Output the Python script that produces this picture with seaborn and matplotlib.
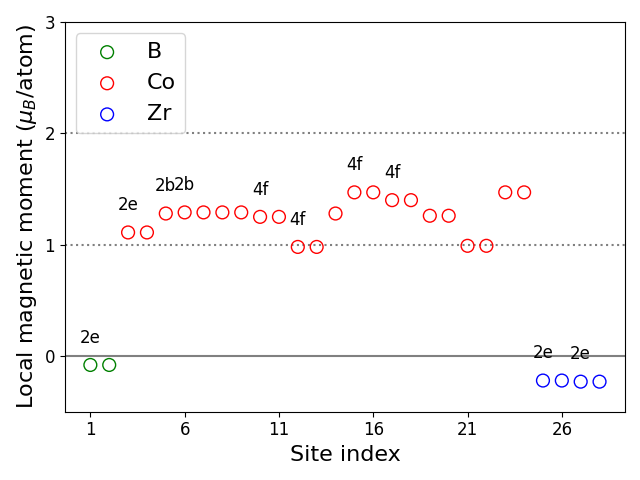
import seaborn as sns
import matplotlib.pyplot as plt
import pandas as pd

# datos
elementos = ['B'] * 2 + ['Co'] * 22 + ['Zr'] * 4
momentos = [-0.08, -0.08,
            1.11, 1.11, 1.28, 1.29, 1.29, 1.29, 1.29, 1.25, 1.25, 0.98, 0.98,
            1.28, 1.47, 1.47, 1.40, 1.40, 1.26, 1.26, 0.99, 0.99, 1.47, 1.47,
            -0.22, -0.22, -0.23, -0.23]
sitios = list(range(1, len(momentos) + 1))
etiquetas = {1: '2e', 3: '2e', 5: '2b', 6: '2b', 10: '4f', 12: '4f',
             15: '4f', 17: '4f', 25: '2e', 27: '2e'}
colores = {'B': 'green', 'Co': 'red', 'Zr': 'blue'}

df = pd.DataFrame({'sitio': sitios, 'momento': momentos, 'elemento': elementos})

fig, ax = plt.subplots(figsize=(6.4, 4.8), dpi=100)
for el, col in colores.items():
    sub = df[df['elemento'] == el]
    sns.scatterplot(x=sub['sitio'], y=sub['momento'], s=85, marker='o',
                    facecolor='none', edgecolor=col, linewidth=1,
                    label=el, ax=ax)

for s, txt in etiquetas.items():
    ax.text(s, momentos[s - 1] + 0.2, txt, ha='center', va='baseline', fontsize=12)

ax.axhline(0, color='gray', lw=1.5, zorder=0)
ax.axhline(1, color='gray', ls=':', lw=1.5, zorder=0)
ax.axhline(2, color='gray', ls=':', lw=1.5, zorder=0)

ax.set_ylim(-0.5, 3)
ax.set_xticks([1, 6, 11, 16, 21, 26])
ax.set_yticks([0, 1, 2, 3])
ax.tick_params(labelsize=12)
ax.set_xlabel('Site index', fontsize=16)
ax.set_ylabel(r'Local magnetic moment ($\mu_B$/atom)', fontsize=16)
ax.legend(loc='upper left', fontsize=16)
plt.tight_layout()
plt.savefig('out.png')
